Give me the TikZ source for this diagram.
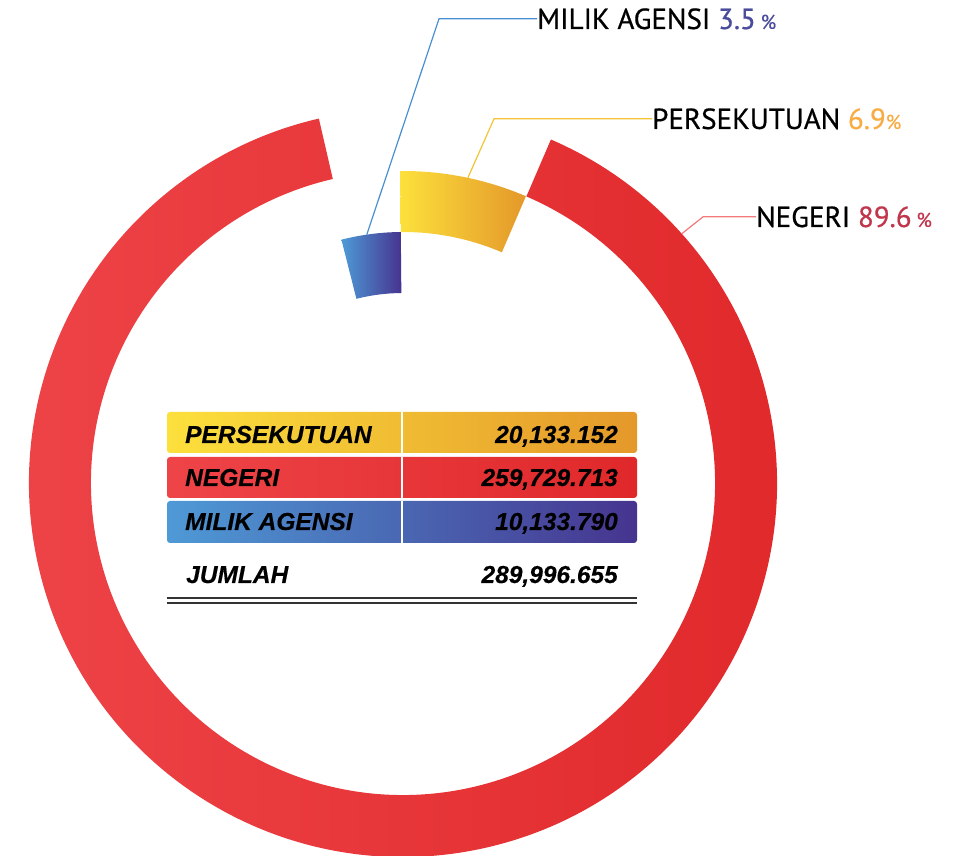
\documentclass[tikz,border=0pt]{standalone}
\usepackage{fontspec}
\newfontfamily\labfont[FakeBold=0.6]{PT Sans}
\newfontfamily\tabfont[BoldItalicFeatures={FakeBold=0.4}]{Liberation Sans}
\usetikzlibrary{calc}

% palette
\definecolor{redL}{HTML}{EE4448}
\definecolor{redR}{HTML}{E0282A}
\definecolor{yelL}{HTML}{FCE03C}
\definecolor{yelR}{HTML}{E4982A}
\definecolor{bluL}{HTML}{4E9AD6}
\definecolor{bluR}{HTML}{46348F}
\definecolor{pctBlue}{HTML}{4B4C9C}
\definecolor{pctOrange}{HTML}{F8AC45}
\definecolor{pctRed}{HTML}{C0364C}
\definecolor{leadBlue}{HTML}{4A8ED2}
\definecolor{leadYel}{HTML}{F2C435}
\definecolor{leadRed}{HTML}{F27A7C}
\definecolor{ruleGrey}{HTML}{333333}

\newcommand{\pct}{{\fontsize{20}{20}\selectfont\%}}

\begin{document}
\begin{tikzpicture}[x=1pt,y=1pt,
  lab/.style={inner sep=0pt, font=\labfont\fontsize{29}{32}\selectfont, text=black},
  tab/.style={inner sep=0pt, font=\tabfont\bfseries\itshape\fontsize{24.5}{28}\selectfont, text=black},
  lead/.style={line width=1.2pt},
  sep/.style={white, line width=1.6pt}]
\useasboundingbox (0,0) rectangle (956,856);
\coordinate (O) at (403,373);

% ---- ring segments ----
% Negeri (outer ring)
\shade[left color=redL, right color=redR]
  ($(O)+(103:374)$) arc[start angle=103, end angle=426.7, radius=374]
  -- ($(O)+(66.7:312)$) arc[start angle=426.7, end angle=103, radius=312] -- cycle;
% Persekutuan
\shade[left color=yelL, right color=yelR]
  ($(O)+(66.8:312)$) arc[start angle=66.8, end angle=90.5, radius=312]
  -- ($(O)+(90.5:251)$) arc[start angle=90.5, end angle=66.8, radius=251] -- cycle;
% Milik Agensi
\shade[left color=bluL, right color=bluR]
  ($(O)+(90.5:251)$) arc[start angle=90.5, end angle=104.2, radius=251]
  -- ($(O)+(104.2:190)$) arc[start angle=104.2, end angle=90.5, radius=190] -- cycle;

% ---- callout labels ----
\node[lab, anchor=base west] (mlab) at (537,827) {MILIK AGENSI {\color{pctBlue}3.5\,\pct}};
\node[lab, anchor=base west] (plab) at (652,727) {PERSEKUTUAN {\color{pctOrange}6.9\pct}};
\node[lab, anchor=base west] (nlab) at (756,629) {NEGERI {\color{pctRed}89.6\,\pct}};

% leader anchors on the segments and their elbows
\coordinate (mA) at ($(O)+(98.3:251)$);
\coordinate (pA) at ($(O)+(78:312)$);
\coordinate (nA) at ($(O)+(41.8:374)$);
\coordinate (mE) at (439,837);
\coordinate (pE) at (494,738);
\coordinate (nE) at (703,639);

\draw[lead, leadBlue] (mA) -- (mE |- mlab.west) -- (mlab.west);
\draw[lead, leadYel]  (pA) -- (pE |- plab.west) -- (plab.west);
\draw[lead, leadRed]  (nA) -- (nE |- nlab.west) -- (nlab.west);

% ---- summary table ----
\shade[rounded corners=3pt, left color=yelL, right color=yelR] (167,403) rectangle (637,444);
\shade[rounded corners=3pt, left color=redL, right color=redR] (167,358) rectangle (637,399);
\shade[rounded corners=3pt, left color=bluL, right color=bluR] (167,313) rectangle (637,355);
\draw[sep] (402,403) -- (402,444);
\draw[sep] (402,358) -- (402,399);
\draw[sep] (402,313) -- (402,355);

\node[tab, anchor=base west] (t1) at (185,413) {PERSEKUTUAN};
\node[tab, anchor=base east] (v1) at (618,413) {20,133.152};
\node[tab, anchor=base west] (t2) at (185,370) {NEGERI};
\node[tab, anchor=base east] (v2) at (618,370) {259,729.713};
\node[tab, anchor=base west] (t3) at (185,326) {MILIK AGENSI};
\node[tab, anchor=base east] (v3) at (618,326) {10,133.790};
\node[tab, anchor=base west] (t4) at (186,273) {JUMLAH};
\node[tab, anchor=base east] (v4) at (618,273) {289,996.655};

\draw[ruleGrey, line width=1.5pt] (167,258) -- (637,258);
\draw[ruleGrey, line width=1.5pt] (167,253) -- (637,253);
\end{tikzpicture}
\end{document}
